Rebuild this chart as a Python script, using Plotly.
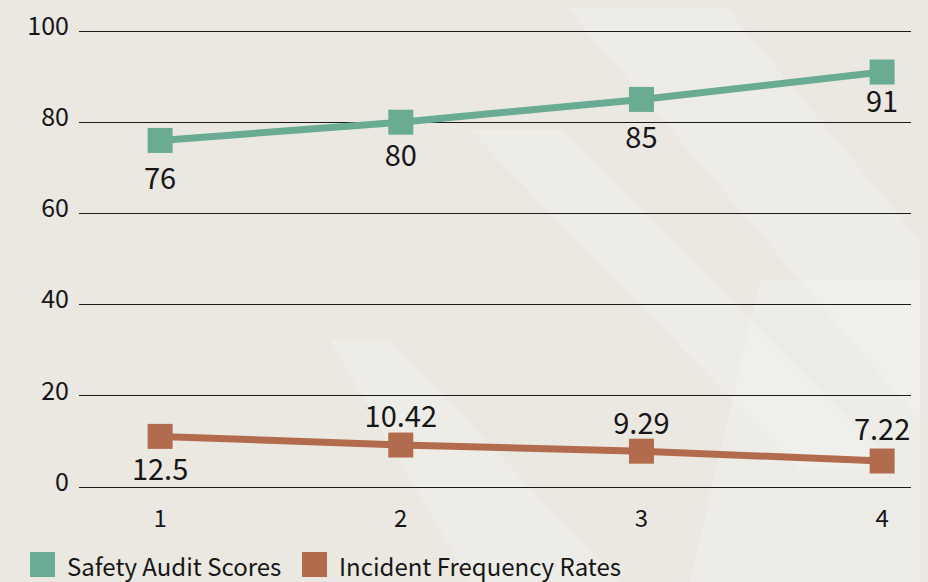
import plotly.graph_objects as go

periods = [1, 2, 3, 4]
safety_scores = [76, 80, 85, 91]
safety_labels = ["76", "80", "85", "91"]
incident_rates = [11.1, 9.2, 7.85, 5.7]
incident_labels = ["12.5", "10.42", "9.29", "7.22"]
series_names = ["Safety Audit Scores", "Incident Frequency Rates"]
y_ticks = [0, 20, 40, 60, 80, 100]

GREEN = "#6AAB93"
BROWN = "#B26B4C"
FONT = "Noto Sans CJK SC"
INK = "#161616"
BG = "#EAE8E1"

# The page places the figure 8px from the top-left corner of the window.
OFF = 8
FW, FH = 928 - OFF, 582 - OFF

series = [
    (series_names[0], safety_scores, safety_labels, GREEN,
     ["bottom center"] * 4, [41, 33, 41, 27]),
    (series_names[1], incident_rates, incident_labels, BROWN,
     ["bottom center", "top center", "top center", "top center"], [33, 15, 15, 21]),
]
fig = go.Figure()
for name, vals, labels, col, tpos, gap in series:
    fig.add_trace(go.Scatter(
        x=periods, y=vals, mode="lines+markers", name=name,
        line=dict(color=col, width=7),
        marker=dict(symbol="square", size=25, color=col),
        showlegend=False, cliponaxis=False,
    ))
    fig.add_trace(go.Scatter(
        x=periods, y=vals, mode="markers+text", name=name + " labels",
        text=labels, textposition=tpos,
        textfont=dict(size=29, color=INK, family=FONT),
        marker=dict(size=gap, opacity=0, color=col),
        showlegend=False, cliponaxis=False, hoverinfo="skip",
    ))

# window-pixel layout targets
PL, PR, PT, PB = 79, 911, 29, 487
Y_TOP = 100 * (PB - PT) / (487 - 31)
L, T = PL - OFF, PT - OFF
R, B = 928 - PR, 582 - PB
W = PR - PL
H = PB - PT
def px(x):
    return (x - PL) / W
def py(y):
    return (PB - y) / H

# faint brush-stroke texture in the background
strokes = [
    [(560, 0), (720, 0), (928, 250), (928, 430)],
    [(470, 130), (560, 130), (900, 470), (800, 470)],
    [(330, 340), (390, 340), (620, 582), (470, 582)],
    [(760, 280), (928, 280), (928, 582), (690, 582)],
]
for pts in strokes:
    path = "M " + " L ".join(f"{px(x):.4f},{py(y):.4f}" for x, y in pts) + " Z"
    fig.add_shape(type="path", path=path, xref="paper", yref="paper",
                  fillcolor="rgba(255,255,255,0.2)", line=dict(width=0), layer="below")

legend_items = [(30, GREEN, series_names[0]), (302, BROWN, series_names[1])]
for x0, col, name in legend_items:
    fig.add_shape(type="rect", xref="paper", yref="paper",
                  x0=px(x0), x1=px(x0 + 25), y0=py(577), y1=py(552),
                  fillcolor=col, line=dict(width=0))
    fig.add_annotation(xref="paper", yref="paper", x=px(x0 + 35), y=py(565),
                       text=name, showarrow=False, xanchor="left", yanchor="middle",
                       font=dict(size=24, color=INK, family=FONT))

fig.update_layout(
    width=FW, height=FH,
    margin=dict(l=L, r=R, t=T, b=B, autoexpand=False),
    paper_bgcolor=BG,
    plot_bgcolor="rgba(0,0,0,0)",
    font=dict(family=FONT, color=INK),
    showlegend=False,
)
fig.update_xaxes(
    range=[0.663, 4.12], tickvals=periods, ticktext=[str(p) for p in periods],
    showgrid=False, zeroline=False, showline=False, automargin=False,
    tickfont=dict(size=24, family=FONT, color=INK),
    ticks="outside", ticklen=10, tickcolor="rgba(0,0,0,0)",
)
fig.update_yaxes(
    range=[0, Y_TOP], tickvals=y_ticks,
    showgrid=True, gridcolor="#1a1a1a", gridwidth=1,
    zeroline=True, zerolinecolor="#1a1a1a", zerolinewidth=1,
    showline=False, automargin=False,
    tickfont=dict(size=25, family=FONT, color=INK),
    ticks="outside", ticklen=4, tickcolor="rgba(0,0,0,0)",
    ticklabelshift=-5, ticklabeloverflow="allow",
)

fig.write_html("out.html",
               post_script=f"document.body.style.background='{BG}';")
